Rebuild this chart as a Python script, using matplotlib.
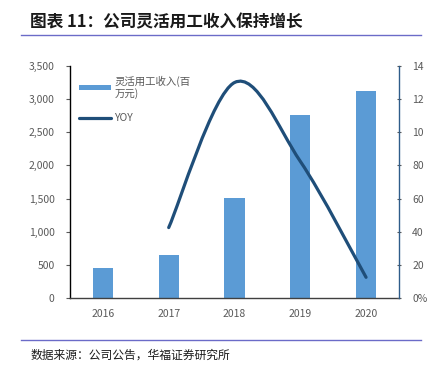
import matplotlib
matplotlib.use("Agg")
from matplotlib import pyplot as plt
from matplotlib.path import Path
from matplotlib.patches import PathPatch
from matplotlib.lines import Line2D
from matplotlib.patches import Patch

plt.rcParams['font.family'] = ['Noto Sans CJK SC', 'DejaVu Sans']

years = ["2016", "2017", "2018", "2019", "2020"]
revenue = [455, 650, 1510, 2760, 3120]
yoy_years = ["2017", "2018", "2019", "2020"]
yoy = [42.5, 130.0, 82.5, 12.5]

left_ticks = [0, 500, 1000, 1500, 2000, 2500, 3000, 3500]
left_labels = ["0", "500", "1,000", "1,500", "2,000", "2,500", "3,000", "3,500"]
right_ticks = [0, 20, 40, 60, 80, 100, 120, 140]
right_labels = ["0%", "20", "40", "60", "80", "10", "12", "14"]

bar_color = "#5B9BD5"
line_color = "#1F4E79"
grey = "#595959"

fig = plt.figure(figsize=(4.36, 3.77), dpi=100)
ax = fig.add_axes([0.1606, 0.2095, 0.7544, 0.6155])
ax2 = ax.twinx()

x = list(range(len(years)))
ax.bar(x, revenue, width=0.31, color=bar_color, zorder=2)
ax.set_xlim(-0.5, len(years) - 0.5)
ax.set_ylim(0, 3500)
ax.set_yticks(left_ticks)
ax.set_yticklabels(left_labels)
ax.set_xticks(x)
ax.set_xticklabels(years)
ax.tick_params(axis='y', colors=grey, labelsize=7.5, length=3, width=0.8, pad=8)
ax.tick_params(axis='x', colors=grey, labelsize=7.5, length=0, pad=8)
ax.spines['top'].set_visible(False)
ax.spines['right'].set_visible(False)
ax.spines['left'].set_color("black")
ax.spines['left'].set_linewidth(1.0)
ax.spines['bottom'].set_color("#404040")
ax.spines['bottom'].set_linewidth(1.0)
for t in ax.yaxis.get_ticklines():
    t.set_color("black")

# smoothed YOY line (Excel-style cubic bezier through the points)
xs = [years.index(y) for y in yoy_years]
pts = list(zip(xs, yoy))
verts = [pts[0]]
codes = [Path.MOVETO]
n = len(pts)
for i in range(n - 1):
    p0 = pts[i - 1] if i > 0 else pts[i]
    p1 = pts[i]
    p2 = pts[i + 1]
    p3 = pts[i + 2] if i + 2 < n else pts[i + 1]
    c1 = (p1[0] + (p2[0] - p0[0]) / 6, p1[1] + (p2[1] - p0[1]) / 6)
    c2 = (p2[0] - (p3[0] - p1[0]) / 6, p2[1] - (p3[1] - p1[1]) / 6)
    verts += [c1, c2, p2]
    codes += [Path.CURVE4, Path.CURVE4, Path.CURVE4]
ax2.add_patch(PathPatch(Path(verts, codes), facecolor="none",
                        edgecolor=line_color, lw=2.3, capstyle='round', zorder=3))
ax2.set_ylim(0, 140)
ax2.set_yticks(right_ticks)
ax2.set_yticklabels(right_labels)
ax2.tick_params(axis='y', colors=grey, labelsize=7.5, length=3, width=0.8,
                direction='inout', pad=8)
for t in ax2.yaxis.get_ticklines():
    t.set_color("#2E5C8A")
ax2.spines['right'].set_color("#2E5C8A")
ax2.spines['right'].set_linewidth(1.0)
ax2.spines['top'].set_visible(False)
ax2.spines['left'].set_visible(False)
ax2.spines['bottom'].set_visible(False)

handles = [Patch(facecolor=bar_color, edgecolor='none'),
           Line2D([0], [0], color=line_color, lw=2.3, solid_capstyle='round')]
leg = ax.legend(handles, ["灵活用工收入(百\n万元)", "YOY"], loc='upper left',
                bbox_to_anchor=(0.0, 1.0), frameon=False, fontsize=7.5,
                handlelength=3.0, handleheight=0.35, handletextpad=0.35,
                labelspacing=1.3, labelcolor=grey)

fig.text(0.069, 0.942, "图表 11：公司灵活用工收入保持增长", fontsize=12,
         fontweight='bold', color="#1a1a1a", va='center')
fig.add_artist(Line2D([0.048, 0.965], [0.906, 0.906], color="#6B6BC8", lw=1.0))
fig.add_artist(Line2D([0.048, 0.965], [0.098, 0.098], color="#6B6BC8", lw=1.0))
fig.text(0.069, 0.057, "数据来源：公司公告，华福证券研究所", fontsize=8.5,
         color="#1a1a1a", va='center')

fig.savefig("out.png", dpi=100)
